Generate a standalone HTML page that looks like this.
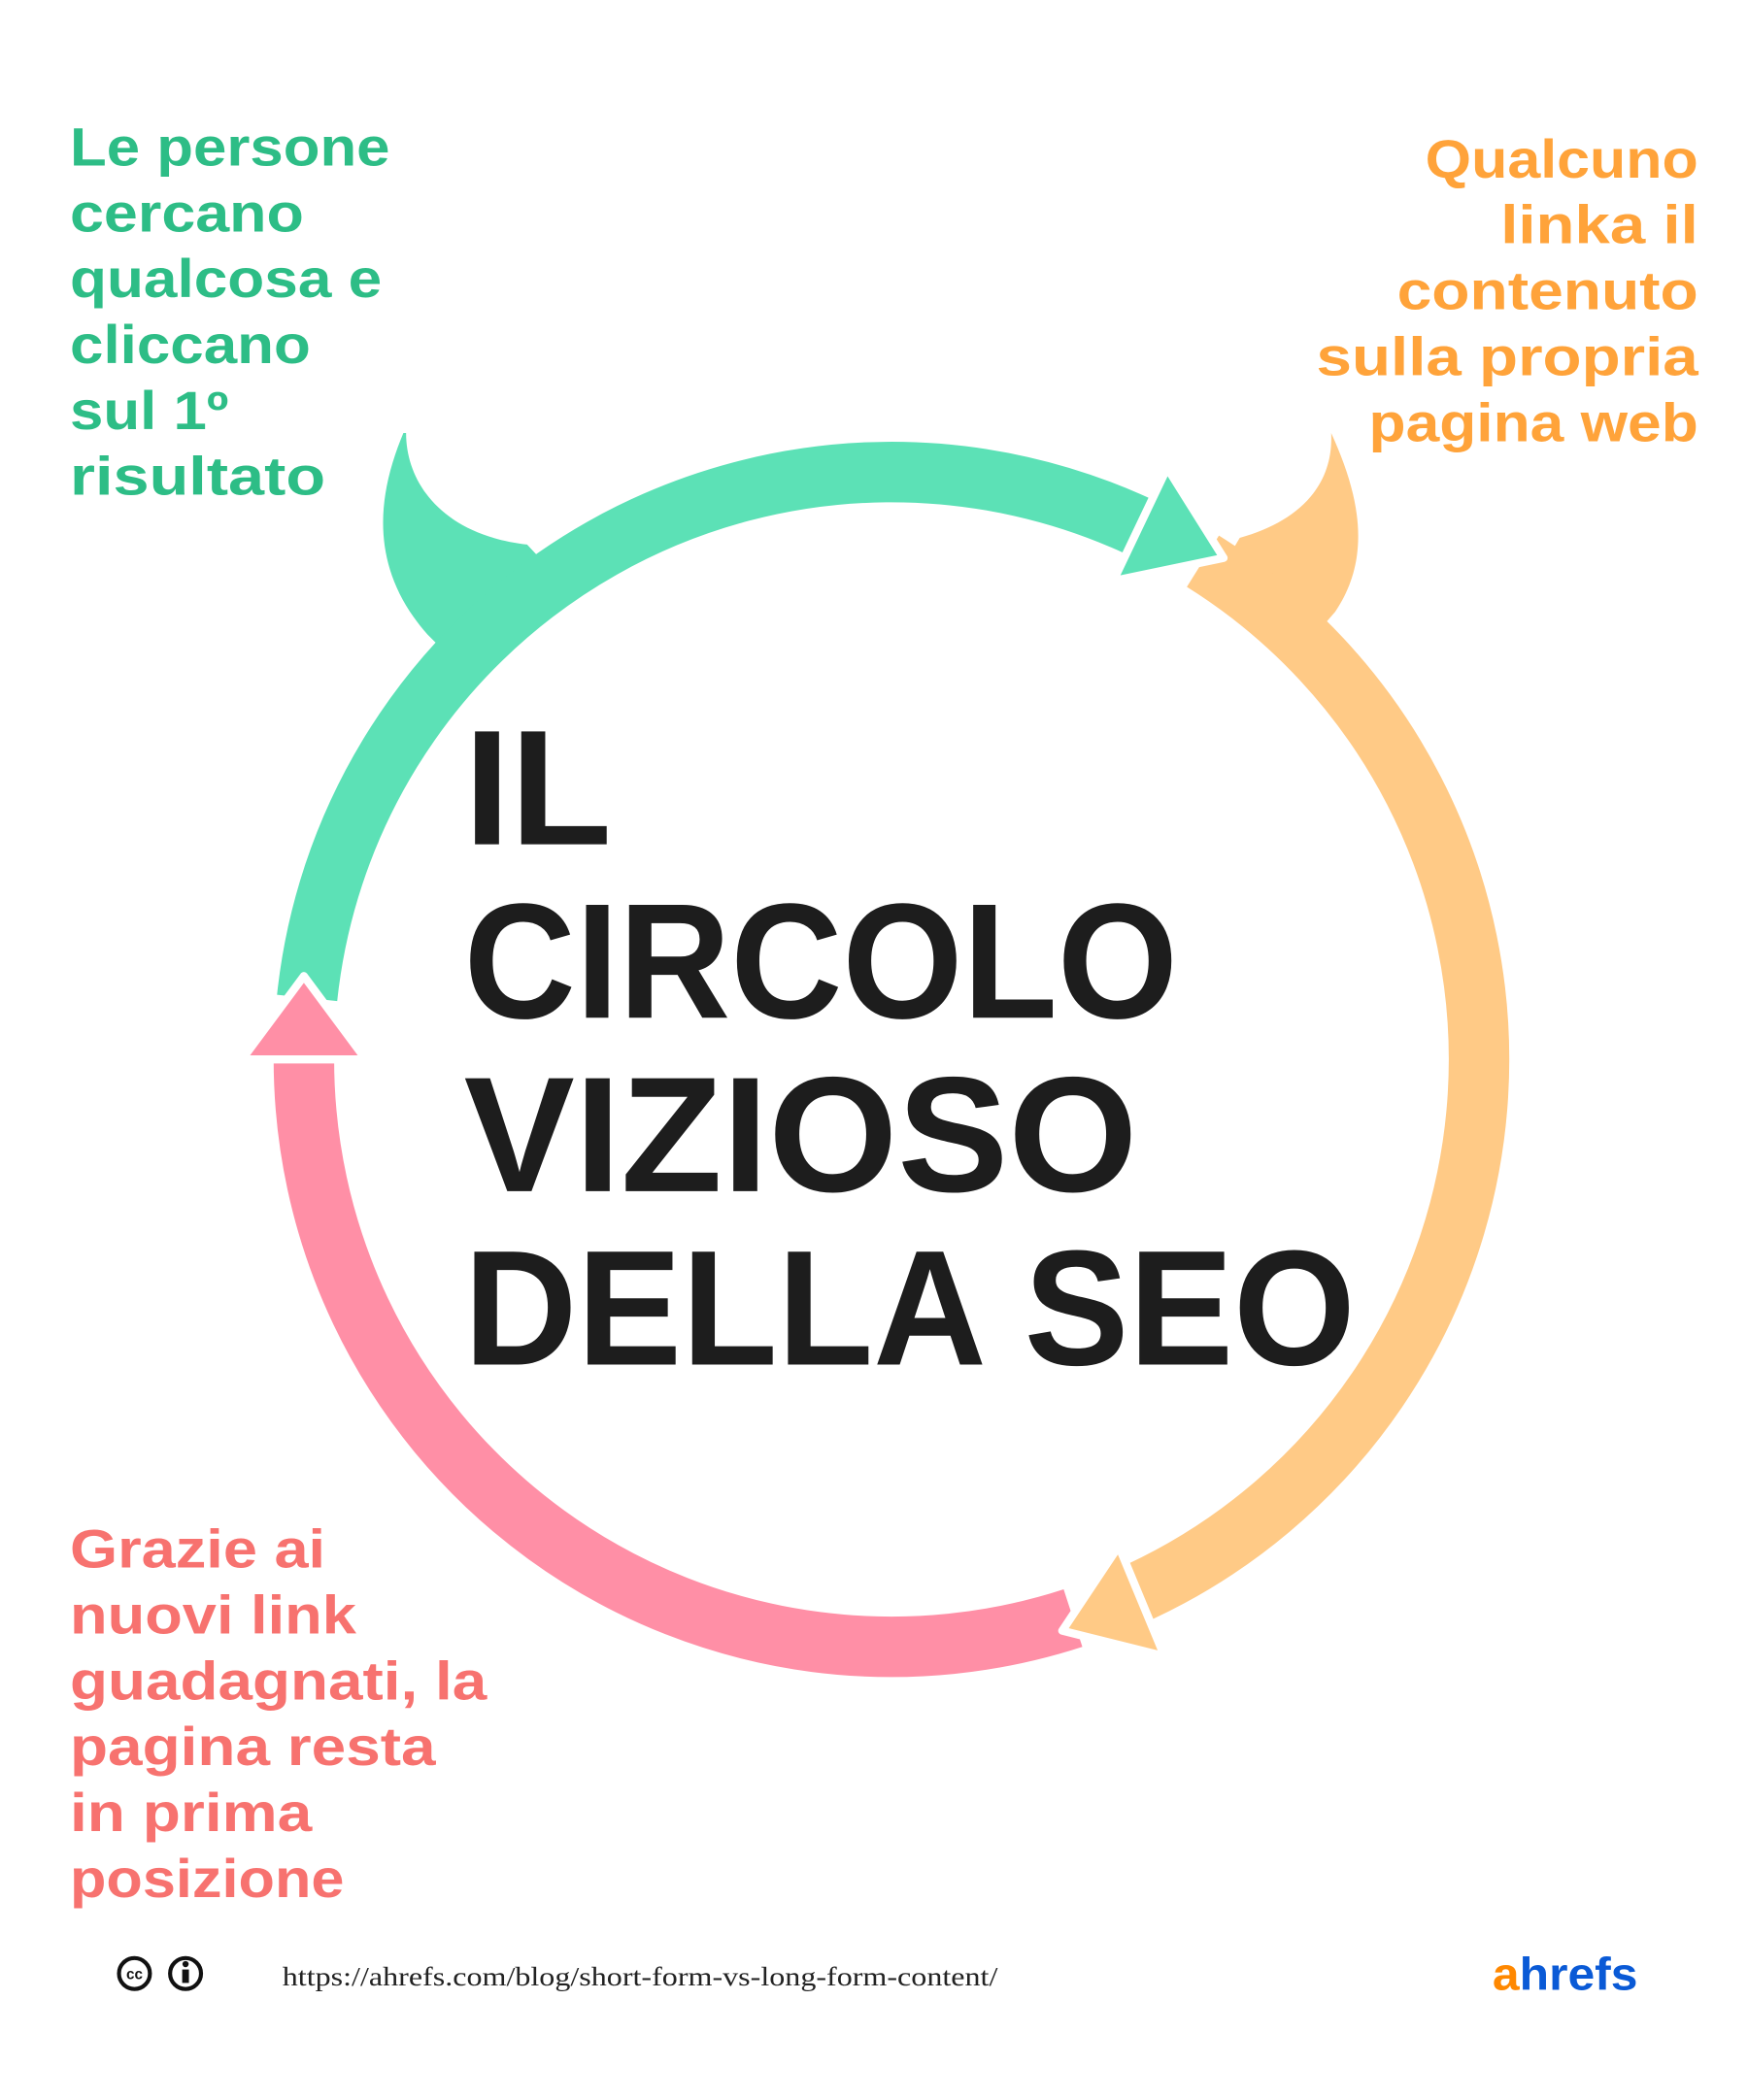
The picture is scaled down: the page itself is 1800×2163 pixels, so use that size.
<!DOCTYPE html>
<html><head><meta charset="utf-8"><style>
html,body{margin:0;padding:0;background:#fff;}
svg{display:block;}
text{font-family:"Liberation Sans",sans-serif;font-weight:bold;}
</style></head><body>
<svg width="1800" height="2163" viewBox="0 0 1300 1562" xmlns="http://www.w3.org/2000/svg">
<rect width="1300" height="1562" fill="#fff"/>
<!-- horns -->
<path d="M300,322 C282,365 272,420 318,472 L332,486 L406,420 L392,405 C330,398 302,360 302,322 Z" fill="#5ce1b6"/>
<path d="M990,322 C1012,370 1020,415 993,455 L980,470 L915,412 L922,400 C965,388 992,362 990,322 Z" fill="#ffca86"/>
<!-- arcs -->
<path d="M228.4,742.3 A437,437 0 0 1 847.7,392" fill="none" stroke="#5ce1b6" stroke-width="45"/>
<path d="M894.6,417.4 A437,437 0 0 1 847.7,1184" fill="none" stroke="#ffca86" stroke-width="45"/>
<path d="M798,1203.6 A437,437 0 0 1 226,788" fill="none" stroke="#ff8fa6" stroke-width="45"/>
<!-- arrowheads -->
<polygon points="910,415 868,348 828,432" fill="#5ce1b6" stroke="#fff" stroke-width="6" stroke-linejoin="round"/>
<polygon points="790,1213 832,1150 866,1232" fill="#ffca86" stroke="#fff" stroke-width="6" stroke-linejoin="round"/>
<polygon points="226,726 180,788 272,788" fill="#ff8fa6" stroke="#fff" stroke-width="6" stroke-linejoin="round"/>
<!-- title -->
<g fill="#1d1d1d" font-size="122">
<text x="345" y="628" textLength="110" lengthAdjust="spacingAndGlyphs">IL</text>
<text x="345" y="757" textLength="531" lengthAdjust="spacingAndGlyphs">CIRCOLO</text>
<text x="345" y="886" textLength="501" lengthAdjust="spacingAndGlyphs">VIZIOSO</text>
<text x="345" y="1015" textLength="663" lengthAdjust="spacingAndGlyphs">DELLA SEO</text>
</g>
<!-- green text -->
<g fill="#2dbd86" font-size="40">
<text x="52" y="123" textLength="238" lengthAdjust="spacingAndGlyphs">Le persone</text>
<text x="52" y="172" textLength="174" lengthAdjust="spacingAndGlyphs">cercano</text>
<text x="52" y="221" textLength="232" lengthAdjust="spacingAndGlyphs">qualcosa e</text>
<text x="52" y="270" textLength="179" lengthAdjust="spacingAndGlyphs">cliccano</text>
<text x="52" y="319" textLength="118" lengthAdjust="spacingAndGlyphs">sul 1º</text>
<text x="52" y="368" textLength="190" lengthAdjust="spacingAndGlyphs">risultato</text>
</g>
<!-- orange text -->
<g fill="#ffa33a" font-size="40">
<text x="1060" y="132" textLength="203" lengthAdjust="spacingAndGlyphs">Qualcuno</text>
<text x="1116" y="181" textLength="147" lengthAdjust="spacingAndGlyphs">linka il</text>
<text x="1039" y="230" textLength="224" lengthAdjust="spacingAndGlyphs">contenuto</text>
<text x="979" y="279" textLength="284" lengthAdjust="spacingAndGlyphs">sulla propria</text>
<text x="1018" y="328" textLength="245" lengthAdjust="spacingAndGlyphs">pagina web</text>
</g>
<!-- pink text -->
<g fill="#f7726f" font-size="40">
<text x="52" y="1166" textLength="190" lengthAdjust="spacingAndGlyphs">Grazie ai</text>
<text x="52" y="1215" textLength="213" lengthAdjust="spacingAndGlyphs">nuovi link</text>
<text x="52" y="1264" textLength="310" lengthAdjust="spacingAndGlyphs">guadagnati, la</text>
<text x="52" y="1313" textLength="272" lengthAdjust="spacingAndGlyphs">pagina resta</text>
<text x="52" y="1362" textLength="180" lengthAdjust="spacingAndGlyphs">in prima</text>
<text x="52" y="1411" textLength="204" lengthAdjust="spacingAndGlyphs">posizione</text>
</g>
<!-- footer -->
<circle cx="100" cy="1468" r="11.5" fill="#fff" stroke="#111" stroke-width="3"/>
<text x="100" y="1472" font-size="11" text-anchor="middle" fill="#111">cc</text>
<circle cx="138" cy="1468" r="11.5" fill="#fff" stroke="#111" stroke-width="3"/>
<circle cx="138" cy="1461" r="2.3" fill="#111"/>
<rect x="135.5" y="1465" width="5" height="10" fill="#111"/>
<text x="210" y="1477" font-size="20" textLength="532" lengthAdjust="spacingAndGlyphs" style="font-family:'Liberation Serif',serif;font-weight:normal" fill="#222">https://ahrefs.com/blog/short-form-vs-long-form-content/</text>
<text x="1110" y="1480" font-size="34" textLength="108" lengthAdjust="spacingAndGlyphs"><tspan fill="#ff8800">a</tspan><tspan fill="#0a5ad6">hrefs</tspan></text>
</svg>
</body></html>
